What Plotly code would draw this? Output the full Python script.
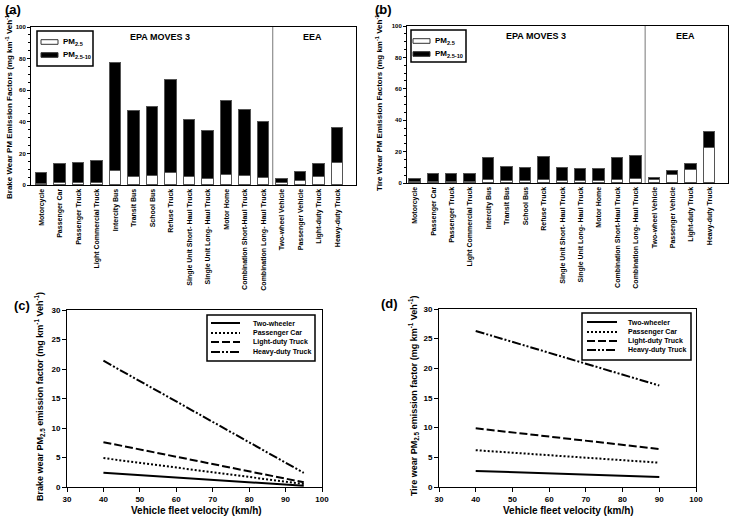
import plotly.graph_objects as go

W, H = 741, 520

categories = ["Motorcycle", "Passenger Car", "Passenger Truck", "Light Commercial Truck",
              "Intercity Bus", "Transit Bus", "School Bus", "Refuse Truck",
              "Single Unit Short- Haul Truck", "Single Unit Long- Haul Truck", "Motor Home",
              "Combination Short-Haul Truck", "Combination Long- Haul Truck",
              "Two-wheel Vehicle", "Passenger Vehicle", "Light-duty Truck", "Heavy-duty Truck"]

# (a) Brake wear: total PM10 and PM2.5
brake_pm10 = [7.5, 13.4, 13.9, 14.9, 77.0, 46.9, 49.3, 66.3, 41.0, 34.2, 53.2, 47.6, 39.7,
              4.0, 8.2, 13.1, 36.3]
brake_pm25 = [0.8, 1.3, 1.3, 1.5, 9.0, 5.2, 5.6, 7.7, 4.9, 3.8, 6.3, 5.7, 4.6,
              1.4, 2.7, 4.9, 13.9]
# (b) Tire wear: total PM10 and PM2.5
tire_pm10 = [2.8, 5.5, 5.5, 6.0, 16.0, 10.0, 9.6, 16.6, 9.4, 9.1, 9.1, 16.0, 17.2,
             3.2, 7.7, 12.3, 32.3]
tire_pm25 = [0.4, 0.6, 0.6, 0.7, 2.1, 1.5, 1.5, 2.1, 1.4, 1.3, 1.3, 2.1, 2.3,
             2.1, 5.3, 8.3, 22.5]

# (c) Brake wear PM2.5 vs speed ; (d) Tire wear PM2.5 vs speed
vehicles = ["Two-wheeler", "Passenger Car", "Light-duty Truck", "Heavy-duty Truck"]
brake_speed = [40, 95]
brake_ef = {"Two-wheeler": [2.4, 0.2], "Passenger Car": [4.9, 0.5],
            "Light-duty Truck": [7.6, 0.8], "Heavy-duty Truck": [21.4, 2.4]}
tire_speed = [40, 90]
tire_ef = {"Two-wheeler": [2.7, 1.7], "Passenger Car": [6.2, 4.1],
           "Light-duty Truck": [9.9, 6.4], "Heavy-duty Truck": [26.3, 17.1]}

n_epa = 13
FONT = "Liberation Sans, Arial, sans-serif"
dashes = {"Two-wheeler": "solid", "Passenger Car": "2px,2px",
          "Light-duty Truck": "8px,3px",
          "Heavy-duty Truck": "9px,2px,2px,2px,2px,2px"}

def px_x(p):
    return p / W

def px_y(p):
    return 1 - p / H

fig = go.Figure()
idx = list(range(len(categories)))

for (pm10, pm25, xa, ya) in [(brake_pm10, brake_pm25, "x", "y"),
                             (tire_pm10, tire_pm25, "x2", "y2")]:
    coarse = [round(t - f, 2) for t, f in zip(pm10, pm25)]
    fig.add_trace(go.Bar(x=idx, y=pm25, name="PM2.5", xaxis=xa, yaxis=ya,
                         marker=dict(color="white", line=dict(color="#555", width=1)),
                         width=0.62, showlegend=False))
    fig.add_trace(go.Bar(x=idx, y=coarse, name="PM2.5-10", xaxis=xa, yaxis=ya,
                         marker=dict(color="black", line=dict(color="#555", width=1)),
                         width=0.62, showlegend=False))

for (spd, ef, xa, ya) in [(brake_speed, brake_ef, "x3", "y3"),
                          (tire_speed, tire_ef, "x4", "y4")]:
    for v in vehicles:
        fig.add_trace(go.Scatter(x=spd, y=ef[v], mode="lines", name=v, xaxis=xa, yaxis=ya,
                                 line=dict(color="black", width=2, dash=dashes[v]),
                                 showlegend=False))

tickf = dict(family=FONT, size=7, color="black", weight="bold")
tickf2 = dict(family=FONT, size=8, color="black", weight="bold")

common = dict(showline=True, linecolor="black", linewidth=1, mirror=True,
              showgrid=False, zeroline=False, automargin=False)

def bar_x(domain, rng, anchor):
    return dict(domain=domain, range=rng, anchor=anchor, tickmode="array", tickvals=idx,
                ticktext=categories, tickangle=-90, tickfont=tickf, ticks="", **common)

def bar_y(domain, anchor):
    return dict(domain=domain, range=[0, 100], anchor=anchor, dtick=20, ticks="outside",
                ticklen=3, tickwidth=1, tickcolor="black",
                tickfont=dict(family=FONT, size=6, color="black", weight="bold"),
                minor=dict(dtick=5, ticks="outside", ticklen=2, tickcolor="black"), **common)

def line_x(domain, anchor):
    return dict(domain=domain, range=[30, 100], anchor=anchor, dtick=10, ticks="outside",
                ticklen=4, tickcolor="black", tickfont=tickf2, **common)

def line_y(domain, anchor):
    return dict(domain=domain, range=[0, 30], anchor=anchor, dtick=5, ticks="outside",
                ticklen=4, tickcolor="black", tickfont=tickf2, **common)

fig.update_layout(
    width=W, height=H, margin=dict(l=0, r=0, t=0, b=0, autoexpand=False),
    paper_bgcolor="white", plot_bgcolor="white", barmode="stack", bargap=0,
    font=dict(family=FONT, color="black"), showlegend=False,
    xaxis=bar_x([px_x(31), px_x(356)], [-0.57, 17.0], "y"),
    yaxis=bar_y([px_y(185), px_y(27)], "x"),
    xaxis2=bar_x([px_x(407), px_x(728)], [-0.43, 17.0], "y2"),
    yaxis2=bar_y([px_y(183), px_y(26)], "x2"),
    xaxis3=line_x([px_x(67), px_x(322)], "y3"),
    yaxis3=line_y([px_y(487), px_y(310)], "x3"),
    xaxis4=line_x([px_x(439), px_x(696)], "y4"),
    yaxis4=line_y([px_y(487), px_y(309)], "x4"),
)

shapes = []
# group divider
for xr, yr in [("x", "y domain"), ("x2", "y2 domain")]:
    shapes.append(dict(type="line", xref=xr, yref=yr, x0=n_epa - 0.5, x1=n_epa - 0.5,
                       y0=0, y1=1, line=dict(color="#777", width=1)))

ann = []
def txt(text, x, y, size, xref="paper", yref="paper", angle=0, xanchor="center", yanchor="middle"):
    ann.append(dict(text=text, x=x, y=y, xref=xref, yref=yref, showarrow=False,
                    textangle=angle, xanchor=xanchor, yanchor=yanchor,
                    font=dict(family=FONT, size=size, color="black", weight="bold")))

def rect(x0, y0, x1, y1, fill, lw=1, lc="black"):
    shapes.append(dict(type="rect", xref="paper", yref="paper", x0=px_x(x0), x1=px_x(x1),
                       y0=px_y(y1), y1=px_y(y0), fillcolor=fill,
                       line=dict(color=lc, width=lw)))

# bar legends (manual, to match the flat legend keys)
bar_keys = [("PM<sub>2.5</sub>", "white"), ("PM<sub>2.5-10</sub>", "black")]
for (bx0, by0, bx1, by1, kx0, kx1, rows, tx) in [
        (37, 31, 93, 66, 41, 58, [42, 55], 61),
        (411, 30, 466, 62, 413, 430, [41, 54], 433)]:
    rect(bx0, by0, bx1, by1, "white", 1.5)
    for (lab, col), ry in zip(bar_keys, rows):
        rect(kx0, ry - 2.3, kx1, ry + 2.3, col, 1, "#333")
        txt(lab, px_x(tx), px_y(ry), 8, xanchor="left")

# line legends (manual)
for (bx0, by0, bx1, by1, lx0, lx1, rows, tx) in [
        (207, 315, 315, 361, 211, 240, [323, 333, 342, 352], 251),
        (582, 313, 691, 360, 587, 617, [322, 332, 341, 350], 626)]:
    rect(bx0, by0, bx1, by1, "white", 1.5)
    for v, ry in zip(vehicles, rows):
        shapes.append(dict(type="line", xref="paper", yref="paper", x0=px_x(lx0), x1=px_x(lx1),
                           y0=px_y(ry), y1=px_y(ry),
                           line=dict(color="black", width=2, dash=dashes[v])))
        txt(v, px_x(tx), px_y(ry), 7, xanchor="left")

txt("EPA MOVES 3", 6.4, 93.5, 9, "x", "y")
txt("EEA", 14.65, 93.5, 9, "x", "y")
txt("EPA MOVES 3", 6.6, 93.5, 9, "x2", "y2")
txt("EEA", 14.7, 93.5, 9, "x2", "y2")

txt("(a)", px_x(3), px_y(9), 13, xanchor="left")
txt("(b)", px_x(373), px_y(9), 13, xanchor="left")
txt("(c)", px_x(12), px_y(305), 13, xanchor="left")
txt("(d)", px_x(379), px_y(303), 13, xanchor="left")

txt("Brake Wear PM Emission Factors (mg km<sup>-1</sup> Veh<sup>-1</sup>)", px_x(9), px_y(106), 8, angle=-90)
txt("Tire Wear PM Emission Factors (mg km<sup>-1</sup> Veh<sup>-1</sup>)", px_x(379), px_y(102), 8, angle=-90)
txt("Brake wear PM<sub>2.5</sub> emission factor (mg km<sup>-1</sup> Veh<sup>-1</sup>)", px_x(39), px_y(397), 9, angle=-90)
txt("Tire wear PM<sub>2.5</sub> emission factor (mg km<sup>-1</sup> Veh<sup>-1</sup>)", px_x(413), px_y(396), 9, angle=-90)
txt("Vehicle fleet velocity (km/h)", px_x(196), px_y(510), 10)
txt("Vehicle fleet velocity (km/h)", px_x(568), px_y(510), 10)

fig.update_layout(annotations=ann, shapes=shapes)
fig.write_html("out.html", config={"displayModeBar": False},
               post_script="document.body.style.margin='0px';document.body.style.overflow='hidden';")
